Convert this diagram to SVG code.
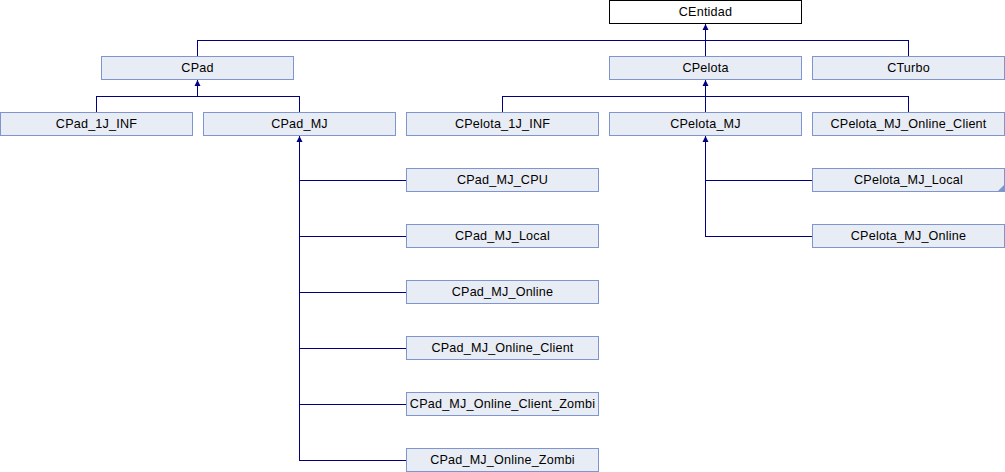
<svg xmlns="http://www.w3.org/2000/svg" width="1005" height="472" viewBox="0 0 1005 472">
  <style>
    .box { fill: #e8ecf5; stroke: #7f95cf; stroke-width: 1; shape-rendering: crispEdges; }
    .root { fill: #ffffff; stroke: #000000; stroke-width: 1; shape-rendering: crispEdges; }
    .lbl { font-family: "Liberation Sans", Arial, sans-serif; font-size: 12.6px; letter-spacing: 0.2px; fill: #000000; text-anchor: middle; }
    .edge { fill: none; stroke: #000080; stroke-width: 1; shape-rendering: crispEdges; }
    .more { fill: #7f95cf; }
  </style>
  <defs>
    <marker id="inh" viewBox="-7 -4 8 8" markerWidth="8" markerHeight="8" refX="0" refY="0" markerUnits="userSpaceOnUse" orient="auto-start-reverse">
      <path d="M0,0 L-6,-3 L-6,3 Z" fill="#000080"/>
    </marker>
  </defs>
  <rect width="1005" height="472" fill="#ffffff"/>

  <!-- inheritance connectors -->
  <g id="edges">
    <!-- CEntidad -->
    <path class="edge" marker-start="url(#inh)" d="M705.5,24 V56"/>
    <path class="edge" d="M197.5,56 V40.5 H908.5 V56"/>
    <!-- CPad -->
    <path class="edge" marker-start="url(#inh)" d="M197.5,80 V96.5"/>
    <path class="edge" d="M96.5,112 V96.5 H299.5 V112"/>
    <!-- CPelota -->
    <path class="edge" marker-start="url(#inh)" d="M705.5,80 V112"/>
    <path class="edge" d="M502.5,112 V96.5 H908.5 V112"/>
    <!-- CPad_MJ -->
    <path class="edge" marker-start="url(#inh)" d="M299.5,136 V460.5"/>
    <path class="edge" d="M299.5,180.5 H406 M299.5,236.5 H406 M299.5,292.5 H406 M299.5,348.5 H406 M299.5,404.5 H406 M299.5,460.5 H406"/>
    <!-- CPelota_MJ -->
    <path class="edge" marker-start="url(#inh)" d="M705.5,136 V236.5"/>
    <path class="edge" d="M705.5,180.5 H812 M705.5,236.5 H812"/>
  </g>

  <g id="CEntidad"><rect class="root" x="609.5" y="0.5" width="192" height="23"/><text class="lbl" x="705.5" y="15.5">CEntidad</text></g>

  <g id="CPad"><rect class="box" x="101.5" y="56.5" width="192" height="23"/><text class="lbl" x="197.5" y="71.5">CPad</text></g>
  <g id="CPelota"><rect class="box" x="609.5" y="56.5" width="192" height="23"/><text class="lbl" x="705.5" y="71.5">CPelota</text></g>
  <g id="CTurbo"><rect class="box" x="812.5" y="56.5" width="192" height="23"/><text class="lbl" x="908.5" y="71.5">CTurbo</text></g>

  <g id="CPad_1J_INF"><rect class="box" x="0.5" y="112.5" width="192" height="23"/><text class="lbl" x="96.5" y="127.5">CPad_1J_INF</text></g>
  <g id="CPad_MJ"><rect class="box" x="203.5" y="112.5" width="192" height="23"/><text class="lbl" x="299.5" y="127.5">CPad_MJ</text></g>
  <g id="CPelota_1J_INF"><rect class="box" x="406.5" y="112.5" width="192" height="23"/><text class="lbl" x="502.5" y="127.5">CPelota_1J_INF</text></g>
  <g id="CPelota_MJ"><rect class="box" x="609.5" y="112.5" width="192" height="23"/><text class="lbl" x="705.5" y="127.5">CPelota_MJ</text></g>
  <g id="CPelota_MJ_Online_Client"><rect class="box" x="812.5" y="112.5" width="192" height="23"/><text class="lbl" x="908.5" y="127.5">CPelota_MJ_Online_Client</text></g>

  <g id="CPad_MJ_CPU"><rect class="box" x="406.5" y="168.5" width="192" height="23"/><text class="lbl" x="502.5" y="183.5">CPad_MJ_CPU</text></g>
  <g id="CPad_MJ_Local"><rect class="box" x="406.5" y="224.5" width="192" height="23"/><text class="lbl" x="502.5" y="239.5">CPad_MJ_Local</text></g>
  <g id="CPad_MJ_Online"><rect class="box" x="406.5" y="280.5" width="192" height="23"/><text class="lbl" x="502.5" y="295.5">CPad_MJ_Online</text></g>
  <g id="CPad_MJ_Online_Client"><rect class="box" x="406.5" y="336.5" width="192" height="23"/><text class="lbl" x="502.5" y="351.5">CPad_MJ_Online_Client</text></g>
  <g id="CPad_MJ_Online_Client_Zombi"><rect class="box" x="406.5" y="392.5" width="192" height="23"/><text class="lbl" x="502.5" y="407.5">CPad_MJ_Online_Client_Zombi</text></g>
  <g id="CPad_MJ_Online_Zombi"><rect class="box" x="406.5" y="448.5" width="192" height="23"/><text class="lbl" x="502.5" y="463.5">CPad_MJ_Online_Zombi</text></g>

  <g id="CPelota_MJ_Local"><rect class="box" x="812.5" y="168.5" width="192" height="23"/><path class="more" d="M1004,185 V191 H998 Z"/><text class="lbl" x="908.5" y="183.5">CPelota_MJ_Local</text></g>
  <g id="CPelota_MJ_Online"><rect class="box" x="812.5" y="224.5" width="192" height="23"/><text class="lbl" x="908.5" y="239.5">CPelota_MJ_Online</text></g>
</svg>
